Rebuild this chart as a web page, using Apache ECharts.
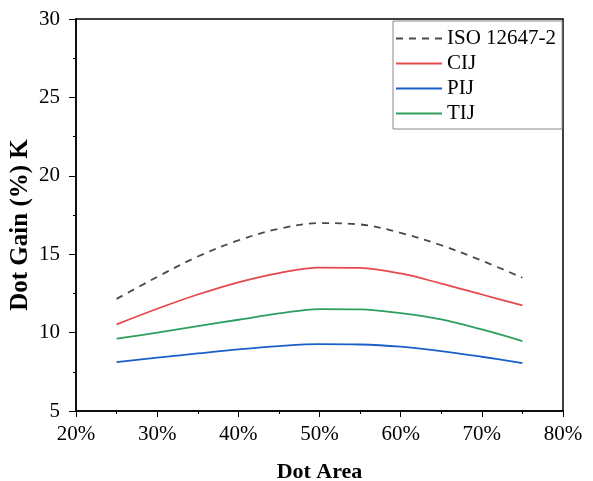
<!DOCTYPE html>
<html lang="en">
  <head>
    <meta charset="UTF-8" />
    <title>Dot Gain K</title>
    <script src="https://cdn.jsdelivr.net/npm/echarts@6/dist/echarts.min.js"></script>
    <style>
      html, body { margin: 0; padding: 0; background: #fff; }
      #main { width: 593px; height: 481px; }
    </style>
  </head>
  <body>
    <div id="main"></div>
    <script>
      var dotArea = [25, 30, 35, 40, 45, 50, 55, 60, 65, 70, 75];
      var iso = [12.15, 13.55, 14.85, 15.88, 16.62, 16.98, 16.9, 16.36, 15.57, 14.59, 13.5];
      var cij = [10.52, 11.52, 12.43, 13.21, 13.8, 14.15, 14.13, 13.77, 13.13, 12.43, 11.73];
      var pij = [8.12, 8.4, 8.67, 8.93, 9.14, 9.26, 9.24, 9.1, 8.82, 8.46, 8.06];
      var tij = [9.61, 10.0, 10.42, 10.82, 11.22, 11.5, 11.48, 11.24, 10.84, 10.2, 9.46];
      var names = ["ISO 12647-2", "CIJ", "PIJ", "TIJ"];

      function pairs(ys) {
        return dotArea.map(function (x, i) { return [x, ys[i]]; });
      }

      var font = "Liberation Serif";
      var chart = echarts.init(document.getElementById("main"));

      function line(name, ys, color, type) {
        return {
          name: name,
          type: "line",
          data: pairs(ys),
          smooth: 0.35,
          symbol: "none",
          lineStyle: { color: color, width: 1.8, type: type },
          itemStyle: { color: color }
        };
      }

      var option = {
        animation: false,
        textStyle: { fontFamily: font },
        grid: {
          left: 76, right: 30, top: 19, bottom: 70,
          containLabel: false, outerBoundsMode: "none",
          show: true, borderColor: "#000", borderWidth: 1.5
        },
        legend: {
          orient: "vertical",
          left: 393,
          top: 21,
          padding: [7, 6, 5, 2],
          itemGap: 4,
          itemWidth: 46,
          itemHeight: 20,
          borderColor: "#888",
          borderWidth: 1,
          itemStyle: { opacity: 0 },
          textStyle: { fontFamily: font, fontSize: 21, color: "#000" },
          data: names
        },
        xAxis: {
          type: "value",
          min: 20,
          max: 80,
          interval: 10,
          name: "Dot Area",
          nameLocation: "middle",
          nameGap: 50,
          nameMoveOverlap: false,
          nameTextStyle: { fontFamily: font, fontSize: 22, fontWeight: "bold", color: "#000" },
          axisLine: { lineStyle: { color: "#000", width: 1.5 } },
          axisTick: { show: true, length: 6, lineStyle: { color: "#000" } },
          minorTick: { show: true, splitNumber: 2, length: 3, lineStyle: { color: "#000" } },
          splitLine: { show: false },
          axisLabel: { fontFamily: font, fontSize: 21, color: "#000", margin: 13, formatter: "{value}%" }
        },
        yAxis: {
          type: "value",
          min: 5,
          max: 30,
          interval: 5,
          name: "Dot Gain (%) K",
          nameLocation: "middle",
          nameGap: 43,
          nameMoveOverlap: false,
          nameTextStyle: { fontFamily: font, fontSize: 25, fontWeight: "bold", color: "#000", padding: [0, 20, 0, 0] },
          axisLine: { show: true, lineStyle: { color: "#000", width: 1.5 } },
          axisTick: { show: true, length: 7, lineStyle: { color: "#000" } },
          minorTick: { show: true, splitNumber: 2, length: 3, lineStyle: { color: "#000" } },
          splitLine: { show: false },
          axisLabel: { fontFamily: font, fontSize: 21, color: "#000", margin: 16 }
        },
        series: [
          line(names[0], iso, "#4a4a4a", [7, 6]),
          line(names[1], cij, "#e5484d", "solid"),
          line(names[2], pij, "#1a5fc8", "solid"),
          line(names[3], tij, "#2e9e5e", "solid")
        ]
      };
      chart.setOption(option);
    </script>
  </body>
</html>
